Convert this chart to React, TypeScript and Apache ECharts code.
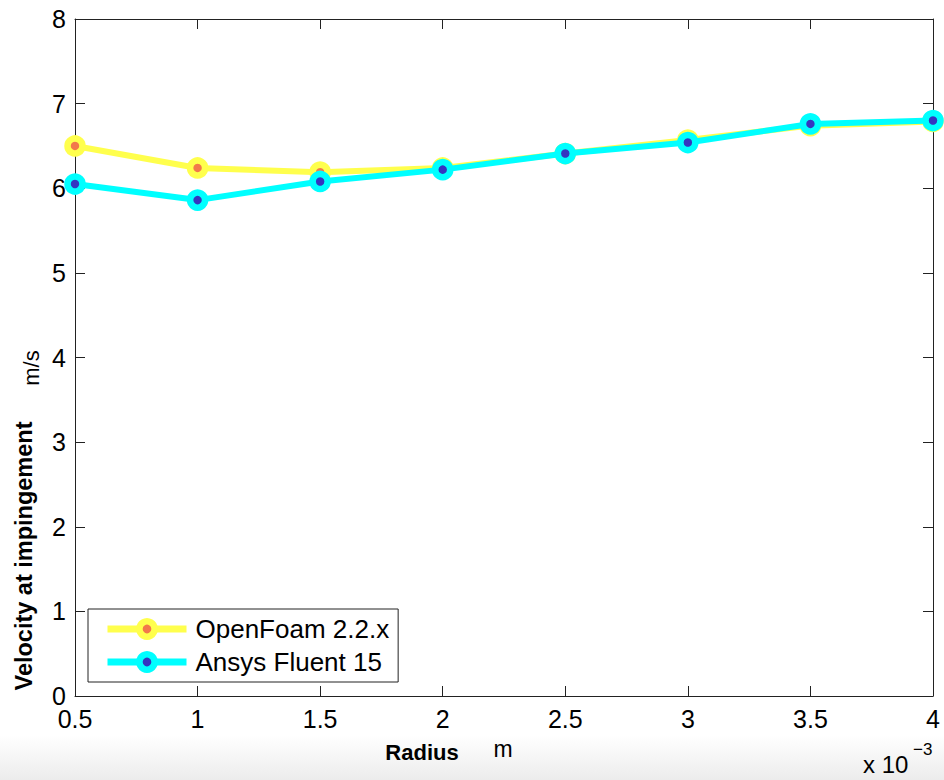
import React, { useEffect, useRef } from "react";
import * as echarts from "echarts";

const radius = [0.5, 1, 1.5, 2, 2.5, 3, 3.5, 4];
const openFoam = [6.5, 6.24, 6.19, 6.24, 6.41, 6.57, 6.74, 6.79];
const fluent = [6.05, 5.86, 6.08, 6.22, 6.41, 6.54, 6.76, 6.8];
const seriesNames = ["OpenFoam 2.2.x", "Ansys Fluent 15"];

const FONT = "'Liberation Sans', Arial, Helvetica, sans-serif";
const YELLOW = "#ffff4d";
const CYAN = "#00ffff";

export default function App() {
  const ref = useRef<HTMLDivElement>(null);
  useEffect(() => {
    if (!ref.current) return;
    const chart = echarts.init(ref.current, null, { renderer: "svg" });
    const axisCommon = {
      axisLine: { show: true, onZero: false, lineStyle: { color: "#222", width: 1 } },
      axisTick: { show: true, inside: true, length: 10, lineStyle: { color: "#222" } },
      splitLine: { show: false },
    };
    chart.setOption({
      animation: false,
      backgroundColor: "#ffffff",
      grid: { left: 75, right: 11, top: 19, bottom: 84 },
      xAxis: [
        {
          type: "value",
          min: 0.5,
          max: 4,
          interval: 0.5,
          position: "bottom",
          ...axisCommon,
          axisLabel: { color: "#000", fontSize: 25, lineHeight: 20, fontFamily: FONT, margin: 13 },
        },
        {
          type: "value",
          min: 0.5,
          max: 4,
          interval: 0.5,
          position: "top",
          ...axisCommon,
          axisLabel: { show: false },
        },
      ],
      yAxis: [
        {
          type: "value",
          min: 0,
          max: 8,
          interval: 1,
          position: "left",
          ...axisCommon,
          axisLabel: { color: "#000", fontSize: 25, lineHeight: 20, fontFamily: FONT, margin: 9 },
        },
        {
          type: "value",
          min: 0,
          max: 8,
          interval: 1,
          position: "right",
          ...axisCommon,
          axisLabel: { show: false },
        },
      ],
      legend: {
        left: 88,
        top: 609,
        orient: "vertical",
        backgroundColor: "#fff",
        borderColor: "#222",
        borderWidth: 1,
        padding: [7, 9, 7, 16],
        itemWidth: 79,
        itemHeight: 19,
        itemGap: 7,
        textStyle: {
          color: "#000",
          fontSize: 26,
          lineHeight: 26,
          fontFamily: FONT,
          padding: [0, 0, 0, 4],
        },
        data: [
          {
            name: seriesNames[0],
            itemStyle: { color: "#f2784b", borderColor: YELLOW, borderWidth: 6.5 },
            lineStyle: { color: YELLOW, width: 7 },
          },
          {
            name: seriesNames[1],
            itemStyle: { color: "#3535c0", borderColor: CYAN, borderWidth: 6.5 },
            lineStyle: { color: CYAN, width: 7 },
          },
        ],
      },
      series: [
        {
          name: seriesNames[0],
          type: "line",
          data: radius.map((r, i) => [r, openFoam[i]]),
          symbol: "circle",
          symbolSize: 15,
          lineStyle: { color: YELLOW, width: 6 },
          itemStyle: { color: "#f2784b", borderColor: YELLOW, borderWidth: 6.5 },
          z: 2,
        },
        {
          name: seriesNames[1],
          type: "line",
          data: radius.map((r, i) => [r, fluent[i]]),
          symbol: "circle",
          symbolSize: 15,
          lineStyle: { color: CYAN, width: 6 },
          itemStyle: { color: "#3535c0", borderColor: CYAN, borderWidth: 6.5 },
          z: 3,
        },
      ],
      graphic: [
        {
          type: "rect",
          silent: true,
          z: -10,
          shape: { x: 0, y: 735, width: 944, height: 45 },
          style: {
            fill: new echarts.graphic.LinearGradient(0, 0, 0, 1, [
              { offset: 0, color: "#ffffff" },
              { offset: 1, color: "#ececec" },
            ]),
          },
        },
        {
          type: "text",
          x: 422,
          y: 752,
          style: {
            text: "Radius",
            font: `bold 22px ${FONT}`,
            fill: "#000",
            align: "center",
            verticalAlign: "middle",
          },
        },
        {
          type: "text",
          x: 503,
          y: 749,
          style: {
            text: "m",
            font: `23px ${FONT}`,
            fill: "#000",
            align: "center",
            verticalAlign: "middle",
          },
        },
        {
          type: "text",
          x: 24,
          y: 556,
          rotation: Math.PI / 2,
          style: {
            text: "Velocity at impingement",
            font: `bold 23.5px ${FONT}`,
            fill: "#000",
            align: "center",
            verticalAlign: "middle",
          },
        },
        {
          type: "text",
          x: 31,
          y: 368,
          rotation: Math.PI / 2,
          style: {
            text: "m/s",
            font: `22px ${FONT}`,
            fill: "#000",
            align: "center",
            verticalAlign: "middle",
          },
        },
        {
          type: "text",
          x: 863,
          y: 764,
          style: {
            text: "x 10",
            font: `24px ${FONT}`,
            fill: "#000",
            align: "left",
            verticalAlign: "middle",
          },
        },
        {
          type: "text",
          x: 913,
          y: 749,
          style: {
            text: "\u22123",
            font: `17px ${FONT}`,
            fill: "#000",
            align: "left",
            verticalAlign: "middle",
          },
        },
      ],
    });
    return () => chart.dispose();
  }, []);
  return (
    <div
      ref={ref}
      style={{ position: "fixed", left: 0, top: 0, width: 944, height: 780 }}
    />
  );
}
